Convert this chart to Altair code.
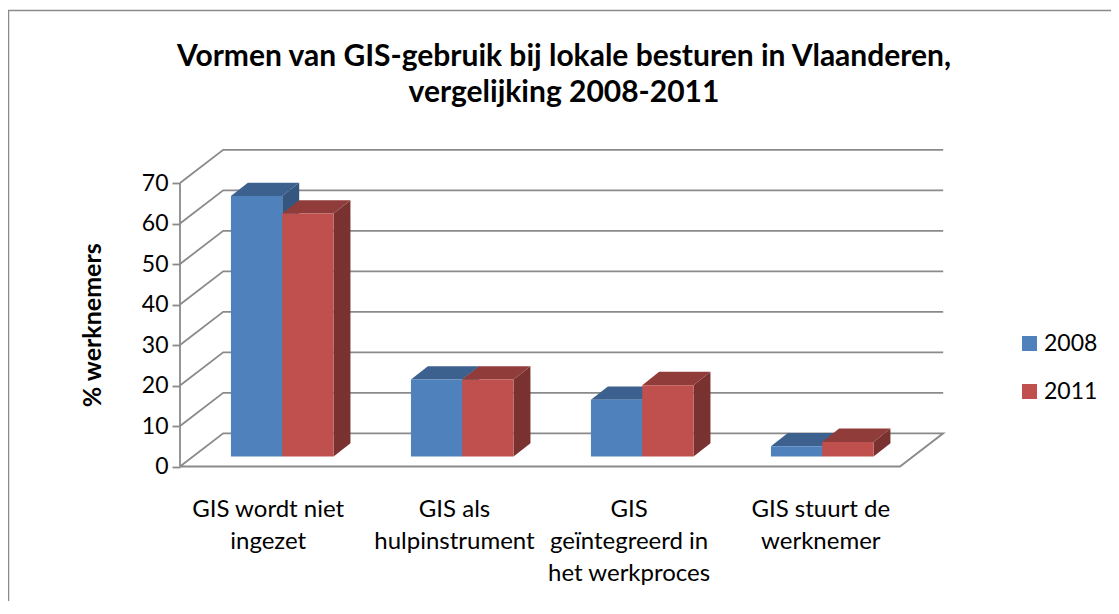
import altair as alt
import pandas as pd

categories = ["GIS wordt niet\ningezet", "GIS als\nhulpinstrument",
              "GIS\ngeïntegreerd in\nhet werkproces", "GIS stuurt de\nwerknemer"]
series = ["2008", "2011"]
values_2008 = [64.3, 19.0, 14.0, 2.5]
values_2011 = [60.0, 19.0, 17.6, 3.6]
y_ticks = [0, 10, 20, 30, 40, 50, 60, 70]

# layout of the pseudo 3D box, in axis units
WALL_DX, WALL_DY = 0.24, 8.2
BAR_DX, BAR_DY = 0.094, 3.3
BAR_BASE, BAR_LEFT, BAR_W = 2.47, 0.283, 0.285
LABEL_X = [0.49, 1.525, 2.495, 3.56]
GRID = "#8a8a8a"
LW = 1.8
FONT = "Lato"
XS = alt.Scale(domain=[0, 4], nice=False, zero=False)
YS = alt.Scale(domain=[0, 70], nice=False, zero=False)

front, top, side = [], [], []
for s_i, (name, vals) in enumerate(zip(series, [values_2008, values_2011])):
    for c_i, v in enumerate(vals):
        x0 = c_i + BAR_LEFT + s_i * BAR_W
        x1 = x0 + BAR_W
        b = BAR_BASE
        t = v + BAR_BASE
        front.append(dict(s=name, x=x0, x2=x1, y=b, y2=t))
        gid = f"{name}-{c_i}"
        top.append(dict(s=name, g=gid, y=t, x=x0, x2=x1))
        top.append(dict(s=name, g=gid, y=t + BAR_DY, x=x0 + BAR_DX, x2=x1 + BAR_DX))
        side.append(dict(s=name, g=gid, x=x1, y=b, y2=t))
        side.append(dict(s=name, g=gid, x=x1 + BAR_DX, y=b + BAR_DY, y2=t + BAR_DY))
front, top, side = map(pd.DataFrame, (front, top, side))

grid = []
for v in y_ticks:
    pts = [(0, v), (WALL_DX, v + WALL_DY), (4 + WALL_DX, v + WALL_DY)]
    if v == 0:
        pts += [(4, 0), (0, 0)]
    for o, (x, y) in enumerate(pts):
        grid.append(dict(v=v, o=o, x=x, y=y))
grid = pd.DataFrame(grid)

X = alt.X("x:Q", scale=XS, axis=None)
Y = alt.Y("y:Q", scale=YS, axis=alt.Axis(
    title="% werknemers", values=y_ticks, format="d", grid=False,
    domain=False, tickColor=GRID, tickWidth=LW, tickSize=8,
    labelFont=FONT, labelFontSize=23, labelColor="#000000", labelPadding=4,
    titleFont=FONT, titleFontSize=25, titleFontWeight="bold", titleColor="#000000",
    titlePadding=36))

grid_l = alt.Chart(grid).mark_line(color=GRID, strokeWidth=LW).encode(
    x=X, y=Y, detail="v:N", order="o:Q")

axis_l = alt.Chart(pd.DataFrame({"x": [0, 0], "y": [0, 70]})).mark_line(color=GRID, strokeWidth=LW).encode(
    x=X, y=Y)

COL = {"2008": ("#4F81BD", "#3C618E", "#35567F"), "2011": ("#C0504D", "#903C3A", "#7A3230")}
bars = []
for name in series:
    f = alt.datum.s == name
    bars.append(alt.Chart(side).transform_filter(f).mark_area(color=COL[name][2], orient="vertical").encode(
        x=X, y=Y, y2="y2:Q", detail="g:N"))
    bars.append(alt.Chart(top).transform_filter(f).mark_area(color=COL[name][1], orient="horizontal").encode(
        x=X, x2="x2:Q", y=Y, detail="g:N"))
    bars.append(alt.Chart(front).transform_filter(f).mark_rect().encode(
        x=X, x2="x2:Q", y=Y, y2="y2:Q",
        color=alt.Color("s:N", scale=alt.Scale(domain=series, range=["#4F81BD", "#C0504D"]),
                        legend=alt.Legend(title=None, orient="none", legendX=838, legendY=149,
                                          symbolType="square", symbolSize=225, symbolStrokeWidth=0,
                                          labelFont=FONT, labelFontSize=23, labelColor="#000000",
                                          rowPadding=24, labelOffset=3))))

cat_df = pd.DataFrame({"label": categories, "x": LABEL_X, "y": [-7.8] * 4})
cat_l = alt.Chart(cat_df).mark_text(font=FONT, fontSize=24, color="#000000", lineBreak="\n",
                                    lineHeight=32, baseline="top", align="center").encode(
    x=X, y=Y, text="label:N")

frame_top = alt.Chart(pd.DataFrame({"a": [0]})).mark_rule(color="#8a8a8a", strokeWidth=1.5).encode(
    x=alt.value(-172), x2=alt.value(931), y=alt.value(-172.5))
frame_left = alt.Chart(pd.DataFrame({"a": [0]})).mark_rule(color="#8a8a8a", strokeWidth=1.5).encode(
    x=alt.value(-171.5), y=alt.value(-173), y2=alt.value(425))

chart = alt.layer(frame_top, frame_left, grid_l, axis_l, *bars, cat_l).properties(
    width=720, height=283.5,
    title=alt.TitleParams(
        text=["Vormen van GIS-gebruik bij lokale besturen in Vlaanderen,", "vergelijking 2008-2011"],
        font=FONT, fontSize=30, fontWeight="bold", color="#000000", anchor="middle",
        dx=24, offset=-99, lineHeight=36),
    autosize=alt.AutoSizeParams(type="none"),
    padding={"left": 172, "top": 175, "right": 211, "bottom": 134.5},
    background="white",
).configure_view(stroke=None)

chart.save("out.html", embed_options={"renderer": "svg", "actions": False})
